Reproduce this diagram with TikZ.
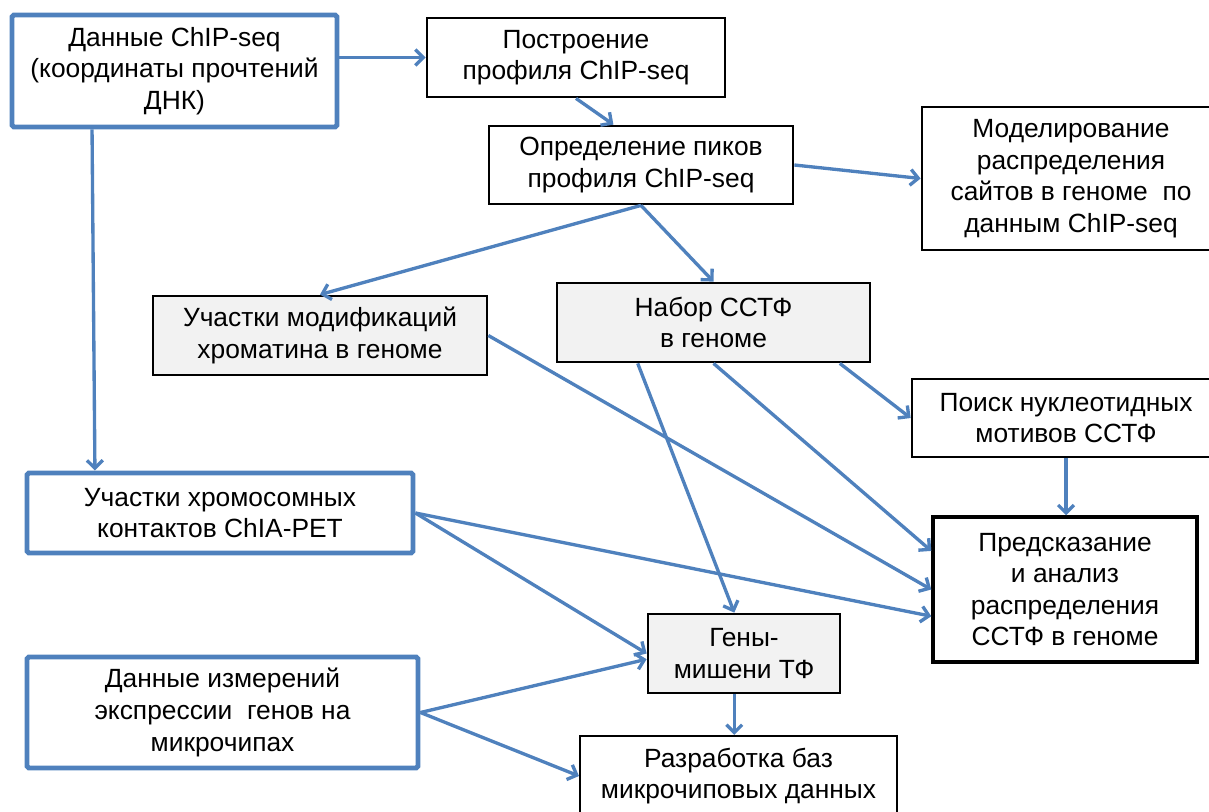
\documentclass[tikz,border=0pt]{standalone}
\usepackage{fontspec}
\setmainfont{Liberation Sans}
\usetikzlibrary{arrows.meta,calc}
\definecolor{flow}{HTML}{4F81BD}
\definecolor{boxgray}{HTML}{F2F2F2}

\begin{document}
\begin{tikzpicture}[x=0.02cm, y=-0.02cm,
  box/.style={draw=black, line width=1.6pt, align=center, inner sep=0pt, font=\fontsize{15}{18}\selectfont},
  srcbox/.style={box, draw=flow, line width=2.8pt, rounded corners=1pt},
  graybox/.style={box, fill=boxgray},
  arr/.style={draw=flow, line width=1.9pt, -{Straight Barb[length=4.5pt,width=9pt]}},
]
\useasboundingbox (0,0) rectangle (1209,811);

\node[srcbox, minimum width=6.5cm, minimum height=2.24cm] (data) at (174.5,71) {Данные ChIP-seq\\(координаты прочтений\\ДНК)};
\node[box, minimum width=5.96cm, minimum height=1.58cm] (build) at (576,57.5) {Построение\\профиля ChIP-seq};
\node[box, minimum width=6.08cm, minimum height=1.56cm] (peaks) at (641,165) {Определение пиков\\профиля ChIP-seq};
\node[box, minimum width=5.96cm, minimum height=2.86cm] (model) at (1071,178.5) {Моделирование\\распределения\\сайтов в геноме\ \ по\\данным ChIP-seq};
\node[graybox, minimum width=6.68cm, minimum height=1.58cm] (chrom) at (320,335.5) {Участки модификаций\\хроматина в геноме};
\node[graybox, minimum width=6.26cm, minimum height=1.58cm] (nabor) at (713.5,322.5) {Набор ССТФ\\в геноме};
\node[box, minimum width=6.16cm, minimum height=1.56cm] (motif) at (1066,418) {Поиск нуклеотидных\\мотивов ССТФ};
\node[srcbox, minimum width=7.72cm, minimum height=1.6cm] (chia) at (220,513) {Участки хромосомных\\контактов ChIA-PET};
\node[box, line width=2pt, minimum width=5.28cm, minimum height=2.9cm] (predict) at (1065,589.5) {Предсказание\\и анализ\\распределения\\ССТФ в геноме};
\node[graybox, minimum width=3.84cm, minimum height=1.58cm] (genes) at (744,653.5) {Гены-\\мишени ТФ};
\node[box, line width=1.2pt, minimum width=6.34cm, minimum height=1.6cm] (razr) at (738.5,776) {Разработка баз\\микрочиповых данных};
\node[srcbox, minimum width=7.82cm, minimum height=2.22cm] (expr) at (222.5,712.5) {Данные измерений\\экспрессии\ \ генов на\\микрочипах};

\draw[arr] (data.east |- build.west) -- (build.west);
\draw[arr] (build.south) -- ($(peaks.north west)!0.41!(peaks.north east)$);
\draw[arr] ($(data.south west)!0.25!(data.south east)$) -- ($(chia.north west)!0.18!(chia.north east)$);
\foreach \a/\b in {peaks.east/model.west, peaks.south/chrom.north, peaks.south/nabor.north,
                   chrom.east/predict.west, chia.east/genes.west, expr.east/razr.west} {
  \draw[arr] (\a) -- (\b);
}
\draw[arr] (nabor.south) -- ($(predict.north west)!0.24!(predict.south west)$);
\draw[arr] ($(nabor.south west)!0.26!(nabor.south east)$) -- ($(genes.north west)!0.45!(genes.north east)$);
\draw[arr] ($(nabor.south west)!0.9!(nabor.south east)$) -- (motif.west);
\draw[arr] ($(motif.south west)!0.5!(motif.south east)$) coordinate (ms) -- (ms |- predict.north);
\draw[arr] (chia.east) -- ($(predict.north west)!0.68!(predict.south west)$);
\draw[arr] (expr.east) -- ($(genes.north west)!0.57!(genes.south west)$);
\draw[arr] ($(genes.south west)!0.45!(genes.south east)$) coordinate (gs) -- (gs |- razr.north);
\end{tikzpicture}
\end{document}
